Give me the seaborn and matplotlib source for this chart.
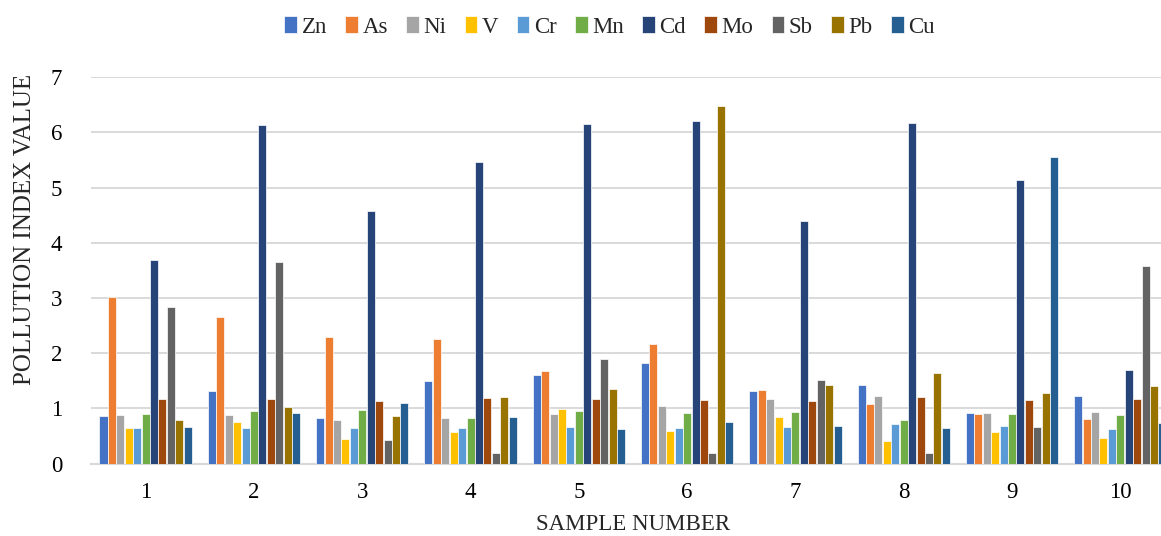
import numpy as np
import pandas as pd
import matplotlib
matplotlib.use("Agg")
import matplotlib.pyplot as plt
import seaborn as sns

samples = ["1", "2", "3", "4", "5", "6", "7", "8", "9", "10"]
metals = ["Zn", "As", "Ni", "V", "Cr", "Mn", "Cd", "Mo", "Sb", "Pb", "Cu"]

zn = [0.87, 1.31, 0.83, 1.50, 1.61, 1.83, 1.31, 1.43, 0.92, 1.22]
as_ = [3.02, 2.66, 2.30, 2.25, 1.68, 2.16, 1.34, 1.08, 0.90, 0.81]
ni = [0.88, 0.88, 0.80, 0.83, 0.90, 1.04, 1.17, 1.22, 0.92, 0.94]
v = [0.65, 0.75, 0.44, 0.58, 0.99, 0.60, 0.84, 0.41, 0.58, 0.46]
cr = [0.65, 0.65, 0.64, 0.64, 0.67, 0.64, 0.66, 0.72, 0.69, 0.63]
mn = [0.90, 0.95, 0.97, 0.83, 0.96, 0.92, 0.94, 0.79, 0.90, 0.89]
cd = [3.69, 6.13, 4.57, 5.47, 6.15, 6.20, 4.39, 6.17, 5.13, 1.69]
mo = [1.17, 1.17, 1.14, 1.19, 1.17, 1.15, 1.14, 1.20, 1.16, 1.17]
sb = [2.83, 3.66, 0.43, 0.20, 1.90, 0.20, 1.51, 0.20, 0.66, 3.58]
pb = [0.80, 1.03, 0.86, 1.20, 1.36, 6.47, 1.42, 1.64, 1.28, 1.41]
cu = [0.67, 0.92, 1.10, 0.84, 0.62, 0.75, 0.69, 0.64, 5.56, 0.74]

series = [zn, as_, ni, v, cr, mn, cd, mo, sb, pb, cu]
colors = ["#4472C4", "#ED7D31", "#A5A5A5", "#FFC000", "#5B9BD5", "#70AD47",
          "#264478", "#9E480E", "#636363", "#997300", "#255E91"]

rows = []
for m, vals in zip(metals, series):
    for s, val in zip(samples, vals):
        rows.append({"Sample": s, "Metal": m, "Value": val})
df = pd.DataFrame(rows)

sns.set_theme(style="white")
plt.rcParams["font.family"] = ["Liberation Serif", "DejaVu Serif"]

fig = plt.figure(figsize=(11.61, 5.36), dpi=100)
# axes extends slightly beyond right edge of figure like the reference
ax = fig.add_axes([0.0788, 0.1349, 0.9328, 0.7214])

sns.barplot(data=df, x="Sample", y="Value", hue="Metal", order=samples,
            hue_order=metals, palette=colors, width=0.856, gap=0.05,
            edgecolor="white", linewidth=0.5, saturation=1, ax=ax, zorder=3)

ax.set_ylim(0, 7)
ax.set_xlim(-0.5, 9.5)
ax.set_yticks(range(0, 8))
ax.yaxis.grid(True, color="#d9d9d9", linewidth=1.4, zorder=0)
ax.set_axisbelow(True)
for s in ["top", "right", "left"]:
    ax.spines[s].set_visible(False)
ax.spines["bottom"].set_color("#d9d9d9")
ax.spines["bottom"].set_linewidth(1.6)
ax.tick_params(axis="both", length=0, labelsize=16.5, colors="#000000")
ax.tick_params(axis="y", pad=21)
ax.tick_params(axis="x", pad=13)

ax.set_xlabel("SAMPLE NUMBER", fontsize=16.5)
ax.set_ylabel("POLLUTION INDEX VALUE", fontsize=18)
ax.xaxis.label.set_va("baseline")
ax.yaxis.label.set_va("center")
ax.xaxis.set_label_coords(0.5, -0.1714)
ax.yaxis.set_label_coords(-0.0614, 0.607)

handles, labels = ax.get_legend_handles_labels()
ax.get_legend().remove()
fig.legend(handles, labels, loc="center", ncol=11, frameon=False,
           bbox_to_anchor=(0.525, 1 - 27 / 536), fontsize=16.5,
           handlelength=0.55, handleheight=0.7, handletextpad=0.2,
           columnspacing=0.8)

fig.savefig("out.png", dpi=100)
